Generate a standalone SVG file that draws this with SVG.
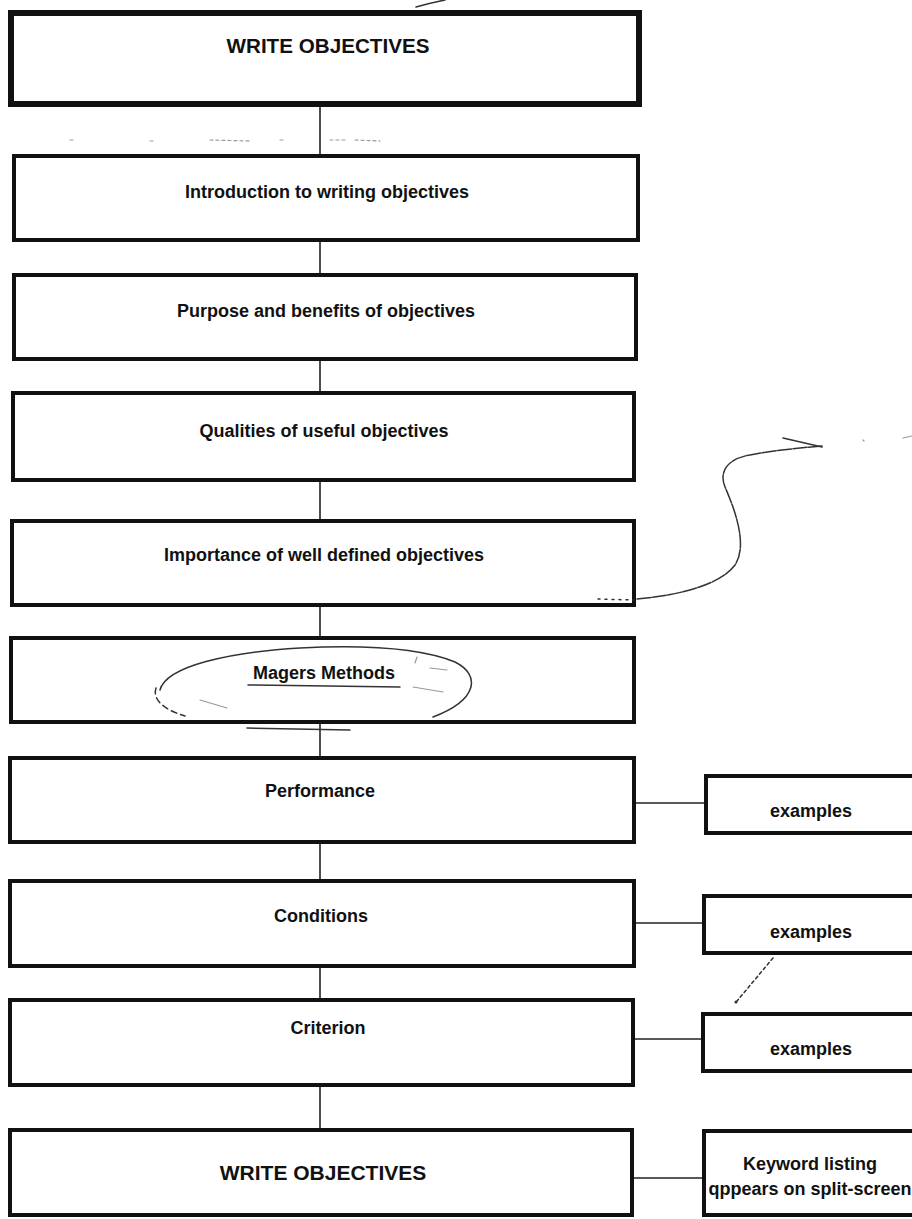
<svg xmlns="http://www.w3.org/2000/svg" width="912" height="1219" viewBox="0 0 912 1219">
  <style>
    .box { fill: #fff; stroke: #111; stroke-width: 4; }
    .heavy { stroke-width: 6; }
    .side { fill: #fff; stroke: #111; stroke-width: 4; }
    .conn { stroke: #222; stroke-width: 1.6; fill: none; }
    .lbl { font-family: "Liberation Sans", Arial, Helvetica, sans-serif; font-weight: bold; font-size: 18px; text-anchor: middle; fill: #111; }
    .big { font-size: 21px; }
    .hand { fill: none; stroke: #333; stroke-width: 1.5; stroke-linecap: round; }
    .faint { fill: none; stroke: #999; stroke-width: 1.2; stroke-linecap: round; }
  </style>

  <rect width="912" height="1219" fill="#fff"/>

  <!-- connectors -->
  <g id="connectors">
    <line class="conn" x1="320" y1="104" x2="320" y2="156"/>
    <line class="conn" x1="320" y1="240" x2="320" y2="275"/>
    <line class="conn" x1="320" y1="359" x2="320" y2="393"/>
    <line class="conn" x1="320" y1="480" x2="320" y2="521"/>
    <line class="conn" x1="320" y1="605" x2="320" y2="638"/>
    <line class="conn" x1="320" y1="722" x2="320" y2="758"/>
    <line class="conn" x1="320" y1="842" x2="320" y2="881"/>
    <line class="conn" x1="320" y1="966" x2="320" y2="1000"/>
    <line class="conn" x1="320" y1="1085" x2="320" y2="1130"/>
    <line class="conn" x1="634" y1="803" x2="706" y2="803"/>
    <line class="conn" x1="634" y1="923" x2="704" y2="923"/>
    <line class="conn" x1="633" y1="1039" x2="703" y2="1039"/>
    <line class="conn" x1="632" y1="1178" x2="704" y2="1178"/>
  </g>

  <g id="write-objectives-top">
    <rect class="box heavy" x="11" y="13" width="628" height="91"/>
    <text class="lbl big" x="328" y="53" textLength="203" lengthAdjust="spacingAndGlyphs">WRITE OBJECTIVES</text>
  </g>
  <g id="introduction">
    <rect class="box" x="14" y="156" width="624" height="84"/>
    <text class="lbl" x="327" y="198">Introduction to writing objectives</text>
  </g>
  <g id="purpose">
    <rect class="box" x="14" y="275" width="622" height="84"/>
    <text class="lbl" x="326" y="317">Purpose and benefits of objectives</text>
  </g>
  <g id="qualities">
    <rect class="box" x="13" y="393" width="621" height="87"/>
    <text class="lbl" x="324" y="437">Qualities of useful objectives</text>
  </g>
  <g id="importance">
    <rect class="box" x="12" y="521" width="622" height="84"/>
    <text class="lbl" x="324" y="561">Importance of well defined objectives</text>
  </g>
  <g id="magers-methods">
    <rect class="box" x="11" y="638" width="623" height="84"/>
    <text class="lbl" x="324" y="679">Magers Methods</text>
    <line class="hand" x1="248" y1="685" x2="400" y2="687" stroke-width="2"/>
  </g>
  <g id="performance">
    <rect class="box" x="10" y="758" width="624" height="84"/>
    <text class="lbl" x="320" y="797">Performance</text>
  </g>
  <g id="conditions">
    <rect class="box" x="10" y="881" width="624" height="85"/>
    <text class="lbl" x="321" y="922">Conditions</text>
  </g>
  <g id="criterion">
    <rect class="box" x="10" y="1000" width="623" height="85"/>
    <text class="lbl" x="328" y="1034">Criterion</text>
  </g>
  <g id="write-objectives-bottom">
    <rect class="box" x="10" y="1130" width="622" height="85"/>
    <text class="lbl big" x="323" y="1180">WRITE OBJECTIVES</text>
  </g>

  <g id="examples-performance">
    <rect class="side" x="706" y="776" width="220" height="57"/>
    <text class="lbl" x="811" y="817">examples</text>
  </g>
  <g id="examples-conditions">
    <rect class="side" x="704" y="896" width="220" height="57"/>
    <text class="lbl" x="811" y="938">examples</text>
  </g>
  <g id="examples-criterion">
    <rect class="side" x="703" y="1014" width="220" height="57"/>
    <text class="lbl" x="811" y="1055">examples</text>
  </g>
  <g id="keyword-listing">
    <rect class="side" x="704" y="1131" width="220" height="84"/>
    <text class="lbl" x="810" y="1170">Keyword listing</text>
    <text class="lbl" x="810" y="1195">qppears on split-screen</text>
  </g>

  <!-- pen annotations -->
  <g id="annotations">
    <path class="hand" d="M416 7 Q430 3 445 0"/>
    <path class="faint" d="M70 140 L74 140 M150 141 L154 141 M210 140 L250 141 M280 140 L286 140 M330 140 L345 140 M355 140 L380 141" stroke-dasharray="3 3"/>
    <!-- circle round Magers Methods -->
    <path class="hand" d="M160 690 C166 666 230 652 300 648 C360 645 420 648 455 662 C481 675 478 700 433 717"/>
    <path class="hand" d="M156 688 C152 700 165 710 185 716" stroke-dasharray="6 4"/>
    <path class="faint" d="M200 700 L227 708 M430 668 L447 670 M413 687 L443 692 M417 657 L415 663"/>
    <path class="hand" d="M247 728 L350 730" stroke="#666"/>
    <!-- curved arrow from Importance box -->
    <path class="hand" d="M598 599 L634 600" stroke-dasharray="2 5"/>
    <path class="hand" d="M637 599 C680 595 720 585 735 565 C748 545 735 510 725 487 C718 470 730 458 750 455 C775 450 800 448 822 446" stroke-dasharray="14 1.5"/>
    <path class="hand" d="M783 438 L822 447"/>
    <path class="faint" d="M863 440 L864 441 M903 438 L912 436"/>
    <!-- pen stroke below the second examples box -->
    <path class="hand" d="M773 958 L737 1001" stroke-dasharray="3 3"/>
    <circle cx="736" cy="1002" r="1.6" fill="#333"/>
  </g>
</svg>
